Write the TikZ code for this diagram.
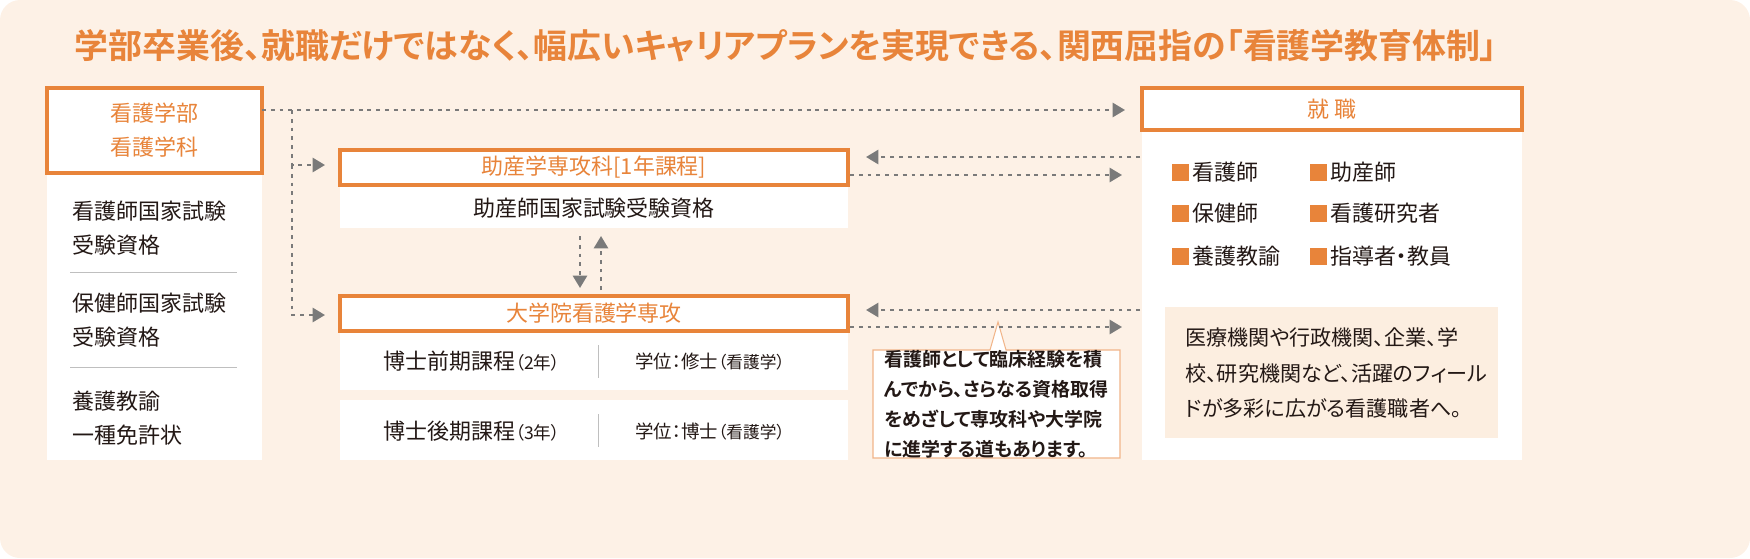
\documentclass[tikz,border=0pt]{standalone}
\usepackage{fontspec}
\setmainfont{Noto Sans CJK JP}[RawFeature=+palt]
\newfontfamily\jpb{Noto Sans CJK JP Bold}[RawFeature=+palt]
\usetikzlibrary{arrows.meta}
\definecolor{bg}{HTML}{FDF1E6}
\definecolor{org}{HTML}{E8843A}
\definecolor{gr}{HTML}{7A7A7A}
\definecolor{txt}{HTML}{231815}
\definecolor{inner}{HTML}{FCEEE0}
\begin{document}
\begin{tikzpicture}[x=0.02cm,y=-0.02cm,
  hdr/.style={draw=org,line width=2.3pt,fill=white},
  lab/.style={text=txt,font=\fontsize{12.5}{19}\selectfont,align=left,inner sep=0},
  olab/.style={text=org,font=\fontsize{12.5}{19}\selectfont,align=center,inner sep=0},
  conn/.style={gr,line width=1.3pt,dash pattern=on 2.2pt off 2.8pt,-{Triangle[length=7pt,width=8pt]}},
  sep/.style={draw=gray!50,line width=0.5pt},
  sq/.style={fill=org,minimum size=0.34cm,inner sep=0,anchor=west}]
\useasboundingbox (0,0) rectangle (1750,558);
\fill[bg,rounded corners=0.4cm] (0,0) rectangle (1750,558);
\node[text=org,font=\jpb\fontsize{19.3}{22}\selectfont] (title) at (786,46) {学部卒業後、就職だけではなく、幅広いキャリアプランを実現できる、関西屈指の「看護学教育体制」};
% left column
\fill[white] (47,173) rectangle (262,460);
\draw[hdr] (47,88) rectangle (262,173);
\coordinate (lh) at (262,110);
\node[olab] (lt) at (154.5,130) {看護学部\\看護学科};
\node[lab,anchor=west] (l1) at (72,228) {看護師国家試験\\受験資格};
\draw[sep] (70,272) -- (237,272);
\node[lab,anchor=west] (l2) at (72,320) {保健師国家試験\\受験資格};
\draw[sep] (70,367) -- (237,367);
\node[lab,anchor=west] (l3) at (72,418) {養護教諭\\一種免許状};
% mid box 1
\fill[white] (340,185) rectangle (848,228);
\draw[hdr] (340,150) rectangle (848,185);
\node[olab] (m1) at (594,167.5) {助産学専攻科[1年課程]};
\node[lab] (m1b) at (594,208) {助産師国家試験受験資格};
% mid box 2
\fill[white] (340,331) rectangle (848,390);
\fill[white] (340,400) rectangle (848,460);
\draw[hdr] (340,296) rectangle (848,331);
\node[olab] (m2) at (594,313.5) {大学院看護学専攻};
\node[lab,font=\fontsize{12.5}{15}\selectfont] (r1a) at (472,361) {博士前期課程{\fontsize{10}{15}\selectfont（2年）}};
\draw[sep] (598,345) -- (598,378);
\node[lab,font=\fontsize{10.5}{15}\selectfont] (r1b) at (710,361) {学位：修士{\fontsize{9.5}{15}\selectfont（看護学）}};
\node[lab,font=\fontsize{12.5}{15}\selectfont] (r2a) at (472,431) {博士後期課程{\fontsize{10}{15}\selectfont（3年）}};
\draw[sep] (598,414) -- (598,447);
\node[lab,font=\fontsize{10.5}{15}\selectfont] (r2b) at (710,431) {学位：博士{\fontsize{9.5}{15}\selectfont（看護学）}};
% right box
\fill[white] (1142,130) rectangle (1522,460);
\draw[hdr] (1142,88) rectangle (1522,130);
\node[olab] (rt) at (1332,109) {就\ 職};
\foreach \t/\x/\y in {看護師/1172/172,保健師/1172/213,養護教諭/1172/256,助産師/1310/172,看護研究者/1310/213,指導者・教員/1310/256}{
  \node[sq] at (\x,\y) {};
  \node[lab,anchor=west] at (\x+20,\y) {\t};
}
\fill[inner] (1165,307) rectangle (1498,438);
\node[lab,anchor=west,font=\fontsize{12}{20}\selectfont] (rtx) at (1185,373) {医療機関や行政機関、企業、学\\校、研究機関など、活躍のフィール\\ドが多彩に広がる看護職者へ。};
% bubble
\draw[draw=org!60,fill=white,line width=0.6pt] (873,350) -- (990,350) -- (998,322) -- (1006,350) -- (1120,350) -- (1120,458) -- (873,458) -- cycle;
\node[lab,font=\jpb\fontsize{10.8}{17}\selectfont,anchor=west] (bub) at (884,404) {看護師として臨床経験を積\\んでから、さらなる資格取得\\をめざして専攻科や大学院\\に進学する道もあります。};
% connectors
\coordinate (a1) at (1125,110);
\coordinate (b1) at (292,110);
\coordinate (b2) at (292,165);
\coordinate (b3) at (292,315);
\draw[conn] (lh) -- (a1);
\draw[conn] (b1) -- (b2) -- (325,165);
\draw[conn] (b2) -- (b3) -- (325,315);
\draw[conn] (1140,157) -- (866,157);
\draw[conn] (850,175) -- (1122,175);
\draw[conn] (1140,310) -- (866,310);
\draw[conn] (850,327) -- (1122,327);
\draw[conn] (580,236) -- (580,288);
\draw[conn] (601,290) -- (601,236);
\end{tikzpicture}
\end{document}
